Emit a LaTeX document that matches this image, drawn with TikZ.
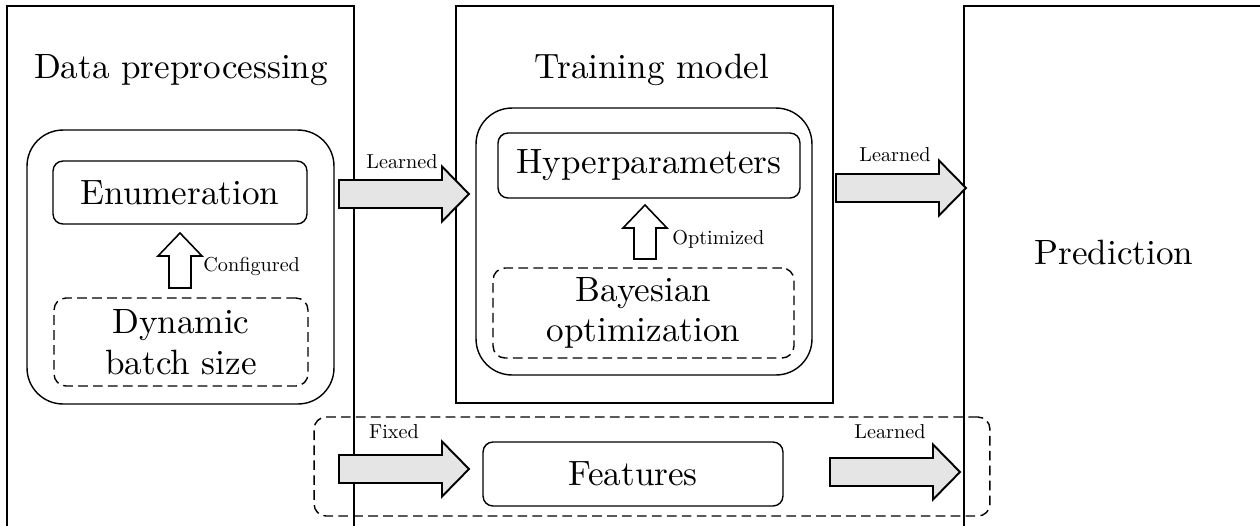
\documentclass[tikz,border=0pt]{standalone}
\usepackage{fontspec}
\setmainfont{lmroman10-regular.otf}
\newcommand\bigfont{\fontsize{20}{23}\selectfont}
\newcommand\smallfont{\fontsize{11.5}{13}\selectfont}
\newcommand\rightblock[3]{% tail x, centre y, tip x
  \draw[blk] (#1,#2-14) -- (#3-27,#2-14) -- (#3-27,#2-27.5) -- (#3,#2) -- (#3-27,#2+27.5) -- (#3-27,#2+14) -- (#1,#2+14) -- cycle;}
\newcommand\upblock[4]{% centre x, tip y, head base y, tail y
  \draw[upblk] (#1-11,#4) -- (#1-11,#3) -- (#1-22,#3) -- (#1,#2) -- (#1+22,#3) -- (#1+11,#3) -- (#1+11,#4) -- cycle;}
\begin{document}
\begin{tikzpicture}[x=0.02cm,y=-0.02cm,
  panel/.style={line width=0.6pt},
  outerbox/.style={draw,line width=0.8pt,rounded corners=0.72cm,inner sep=0pt},
  innerbox/.style={draw,line width=0.8pt,rounded corners=0.2cm,inner sep=0pt,font=\bigfont,align=center},
  dashbox/.style={draw,line width=0.8pt,rounded corners=0.24cm,dash pattern=on 5.5pt off 3pt,inner sep=0pt,font=\bigfont,align=center},
  title/.style={font=\bigfont,inner sep=0pt},
  lbl/.style={font=\smallfont,inner sep=0pt},
  blk/.style={draw,line width=1.1pt,fill=gray!20,line join=miter},
  upblk/.style={draw,line width=0.9pt,fill=white,line join=miter},
]
\useasboundingbox (0,0) rectangle (1260,525);
% bottom dashed group
\node[dashbox,minimum width=13.52cm,minimum height=1.98cm] (fixedgroup) at (652,466.5) {};
% panels
\begin{scope}
\clip (0,0) rectangle (1260,525);
\draw[panel] (7,560) -- (7,6) -- (354,6) -- (354,560);
\draw[panel] (964,560) -- (964,6) -- (1290,6);
\end{scope}
\draw[panel] (456,6) rectangle (833,403);
% titles
\node[title] (tdata) at (181,70) {Data preprocessing};
\node[title] (ttrain) at (652,70) {Training model};
\node[title] (tpred) at (1114,252.5) {Prediction};
% data preprocessing
\node[outerbox,minimum width=6.14cm,minimum height=5.48cm] (dataouter) at (180.5,267) {};
\node[innerbox,minimum width=5.08cm,minimum height=1.26cm] (enum) at (180,192.5) {Enumeration};
\node[dashbox,minimum width=5.08cm,minimum height=1.76cm] (dyn) at (181,342) {Dynamic\\batch size};
\upblock{180}{233}{256}{288}
\node[lbl,anchor=west] (lconf) at (203,266.5) {Configured};
% training model
\node[outerbox,minimum width=6.72cm,minimum height=5.34cm] (trainouter) at (644,241.5) {};
\node[innerbox,minimum width=6.04cm,minimum height=1.3cm] (hyper) at (649,165.5) {Hyperparameters};
\node[dashbox,minimum width=6.02cm,minimum height=1.8cm] (bayes) at (643.5,313) {Bayesian\\optimization};
\upblock{645}{205}{228}{259}
\node[lbl,anchor=west] (lopt) at (672,239) {Optimized};
% features
\node[innerbox,minimum width=6cm,minimum height=1.28cm] (feat) at (633,474) {Features};
% block arrows
\rightblock{339}{194}{469}
\node[lbl] (l1) at (402,162) {Learned};
\rightblock{836}{188}{966}
\node[lbl] (l2) at (895,155) {Learned};
\rightblock{339}{469}{469}
\node[lbl] (lfix) at (394,432) {Fixed};
\rightblock{830}{472}{960}
\node[lbl] (l3) at (890,432) {Learned};
\end{tikzpicture}
\end{document}
